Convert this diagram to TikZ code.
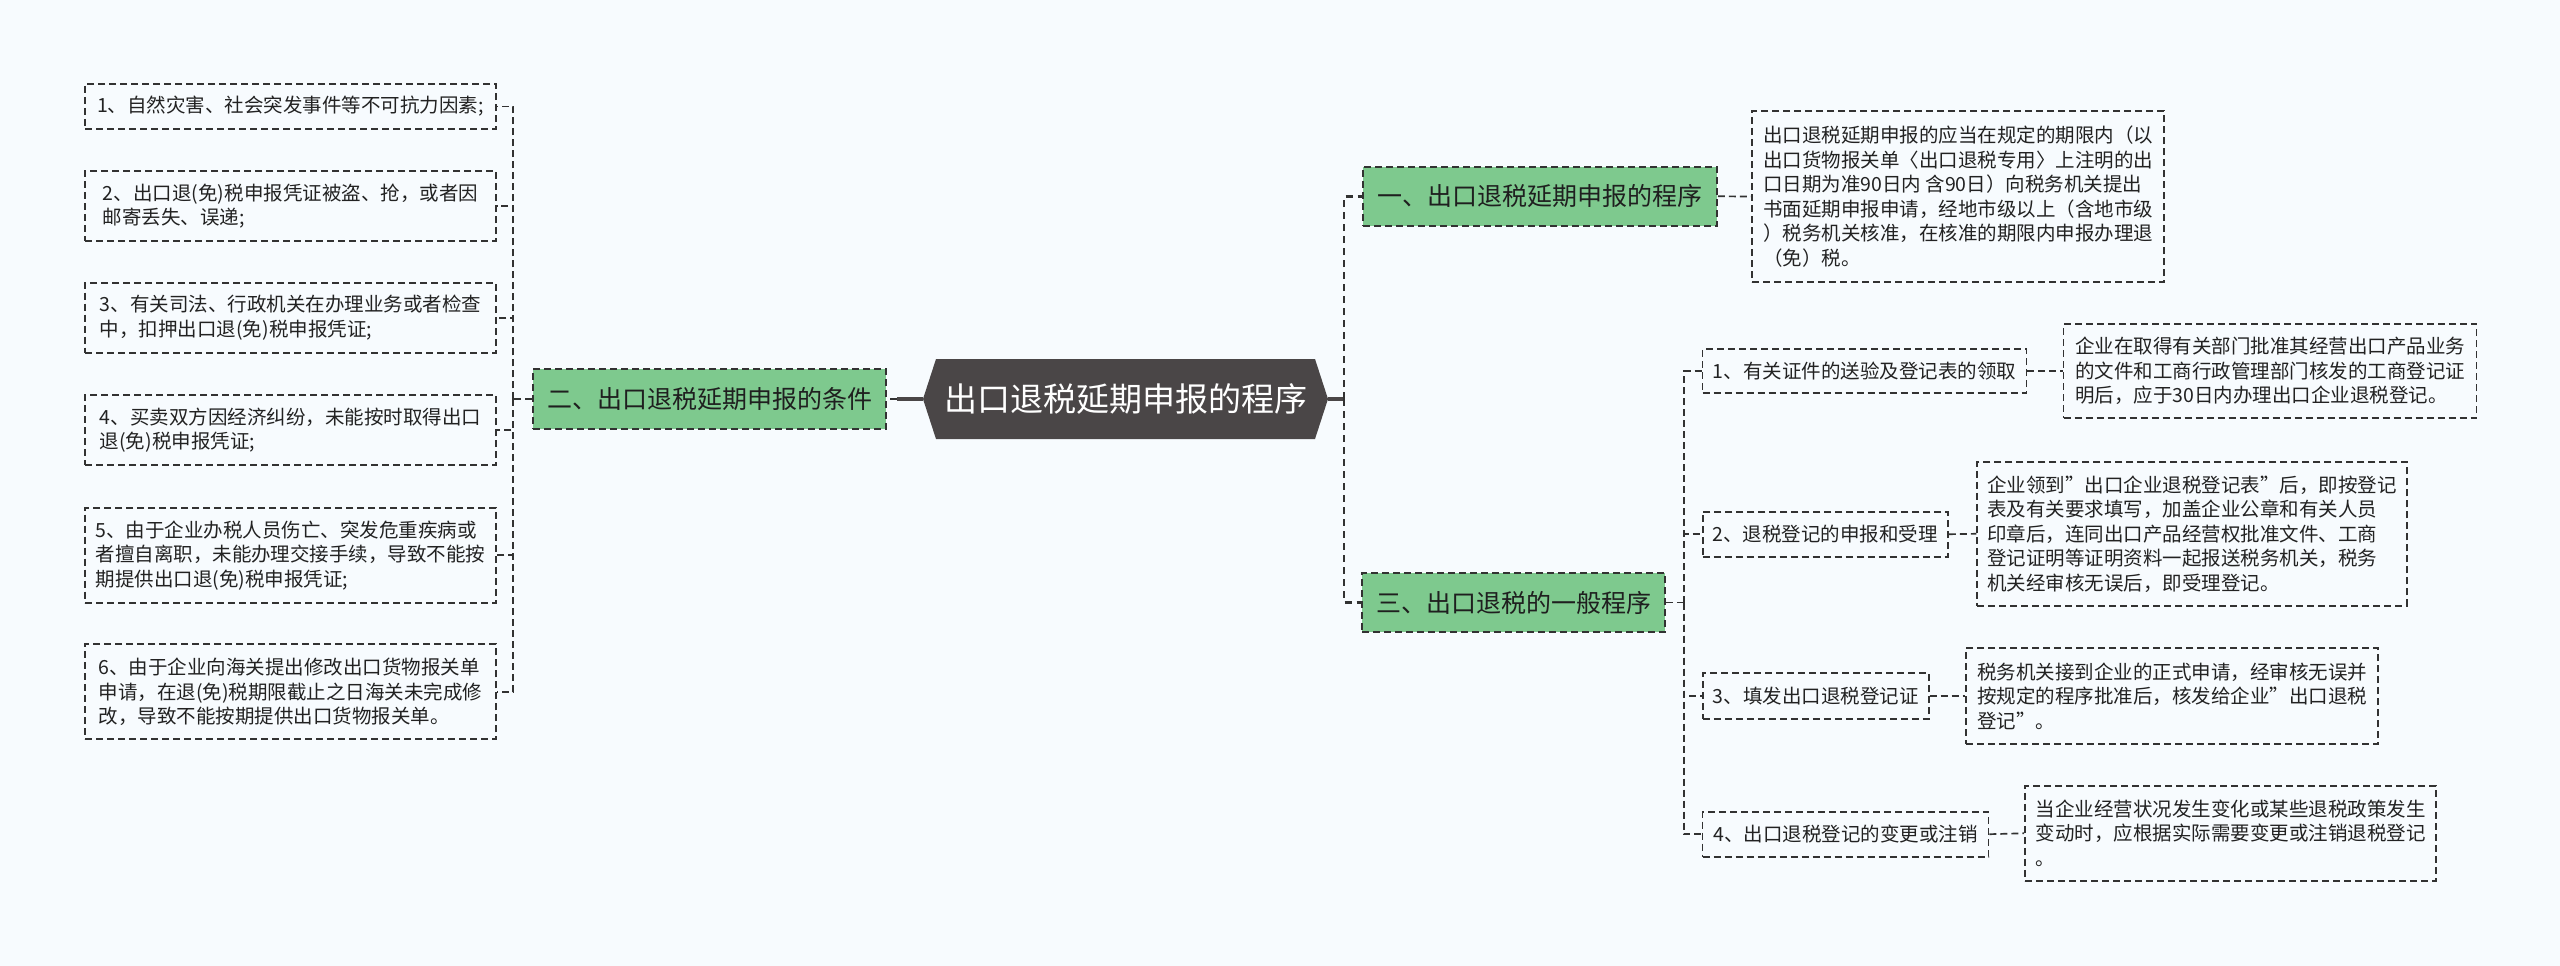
\documentclass[tikz,border=0pt]{standalone}
\usepackage{fontspec}
\setmainfont{Noto Sans CJK SC}[Ligatures=ResetAll]
\usetikzlibrary{calc}
\definecolor{bg}{RGB}{247,251,254}
\definecolor{gfill}{RGB}{126,201,142}
\definecolor{hexc}{RGB}{74,70,71}
\definecolor{ln}{RGB}{50,50,50}
\definecolor{tx}{RGB}{34,34,34}
\tikzset{
 leaf/.style={draw=ln, line width=1.7pt, dash pattern=on 7pt off 4pt, fill=bg, align=left, inner xsep=10pt, inner ysep=0pt, text=tx, font=\fontsize{19.5pt}{24.5pt}\selectfont},
 branch/.style={draw=ln, line width=1.7pt, dash pattern=on 7pt off 4pt, fill=gfill, inner sep=0pt, text=black!88, font=\fontsize{25pt}{30pt}\selectfont},
 conn/.style={draw=ln, line width=1.7pt, dash pattern=on 7pt off 4pt},
 trunk/.style={draw=ln, line width=2.4pt, dash pattern=on 7pt off 5pt},
 rootline/.style={draw=hexc, line width=3.5pt},
}
\begin{document}
\begin{tikzpicture}[x=1pt,y=-1pt]
\fill[bg] (0,0) rectangle (2560,966);
\useasboundingbox (0,0) rectangle (2560,966);
% root
\coordinate (rc) at (1125.5,399);
\fill[hexc] ($(rc)+(-202.5,0)$) -- ($(rc)+(-189.5,40)$) -- ($(rc)+(189.5,40)$) -- ($(rc)+(202.5,0)$) -- ($(rc)+(189.5,-40)$) -- ($(rc)+(-189.5,-40)$) -- cycle;
\node[font=\fontsize{33pt}{40pt}\selectfont, text=white, minimum width=405pt, minimum height=80pt, inner sep=0pt] (root) at (rc) {出口退税延期申报的程序};
% branches
\node[branch, minimum width=353pt, minimum height=60pt] (n2) at (709.5,399) {二、出口退税延期申报的条件};
\node[branch, minimum width=354pt, minimum height=59pt] (n1) at (1540,196.3) {一、出口退税延期申报的程序};
\node[branch, minimum width=303pt, minimum height=59pt] (n3) at (1513.5,602.5) {三、出口退税的一般程序};
% left leaves
\node[leaf, minimum width=411pt, minimum height=45pt] (L1) at (290.5,106.5) {1、自然灾害、社会突发事件等不可抗力因素;};
\node[leaf, minimum width=411pt, minimum height=70pt] (L2) at (290.5,206) {2、出口退(免)税申报凭证被盗、抢，或者因\\邮寄丢失、误递;};
\node[leaf, minimum width=411pt, minimum height=70pt] (L3) at (290.5,317.7) {3、有关司法、行政机关在办理业务或者检查\\中，扣押出口退(免)税申报凭证;};
\node[leaf, minimum width=411pt, minimum height=70pt] (L4) at (290.5,430) {4、买卖双方因经济纠纷，未能按时取得出口\\退(免)税申报凭证;};
\node[leaf, minimum width=411pt, minimum height=95pt] (L5) at (290.5,555.2) {5、由于企业办税人员伤亡、突发危重疾病或\\者擅自离职，未能办理交接手续，导致不能按\\期提供出口退(免)税申报凭证;};
\node[leaf, minimum width=411pt, minimum height=95pt] (L6) at (290.5,691.8) {6、由于企业向海关提出修改出口货物报关单\\申请，在退(免)税期限截止之日海关未完成修\\改，导致不能按期提供出口货物报关单。};
% right description of n1
\node[leaf, minimum width=412pt, minimum height=171pt] (d1) at (1958,196.5) {出口退税延期申报的应当在规定的期限内（以\\出口货物报关单〈出口退税专用〉上注明的出\\口日期为准90日内 含90日）向税务机关提出\\书面延期申报申请，经地市级以上（含地市级\\）税务机关核准，在核准的期限内申报办理退\\（免）税。};
% sub items of n3
\node[leaf, minimum width=324pt, minimum height=44pt] (S1) at (1864.6,371.2) {1、有关证件的送验及登记表的领取};
\node[leaf, minimum width=245pt, minimum height=45pt] (S2) at (1825.3,534.2) {2、退税登记的申报和受理};
\node[leaf, minimum width=226pt, minimum height=46pt] (S3) at (1815.8,696.2) {3、填发出口退税登记证};
\node[leaf, minimum width=286pt, minimum height=45pt] (S4) at (1845.6,834.2) {4、出口退税登记的变更或注销};
\node[leaf, minimum width=413pt, minimum height=94pt] (S1d) at (2270,371.2) {企业在取得有关部门批准其经营出口产品业务\\的文件和工商行政管理部门核发的工商登记证\\明后，应于30日内办理出口企业退税登记。};
\node[leaf, minimum width=412pt, minimum height=144pt] (S2d) at (2192,533.8) {企业领到"出口企业退税登记表"后，即按登记\\表及有关要求填写，加盖企业公章和有关人员\\印章后，连同出口产品经营权批准文件、工商\\登记证明等证明资料一起报送税务机关，税务\\机关经审核无误后，即受理登记。};
\node[leaf, minimum width=412pt, minimum height=96pt] (S3d) at (2172,696.2) {税务机关接到企业的正式申请，经审核无误并\\按规定的程序批准后，核发给企业"出口退税\\登记"。};
\node[leaf, minimum width=411pt, minimum height=95pt] (S4d) at (2230.5,833.3) {当企业经营状况发生变化或某些退税政策发生\\变动时，应根据实际需要变更或注销退税登记\\。};
% connectors: left
\draw[rootline] (root.west) -- ++(-26,0) coordinate (lj);
\draw[conn] (lj) -- (n2.east);
\draw[conn] (n2.west) -- ++(-19,0) coordinate (lt);
\foreach \n in {L1,L2,L3,L4,L5,L6} \draw[conn] (lt) |- (\n.east);
% connectors: right
\draw[rootline] (root.east) -- ++(16,0) coordinate (rj);
\draw[trunk] (rj) |- (n1.west);
\draw[trunk] (rj) |- (n3.west);
\draw[conn] (n1.east) -- (d1.west);
\draw[conn] (n3.east) -- ++(18,0) coordinate (st);
\foreach \n in {S1,S2,S3,S4} {
  \draw[conn] (st) |- (\n.west);
  \draw[conn] (\n.east) -- (\n d.west);
}
\end{tikzpicture}
\end{document}
